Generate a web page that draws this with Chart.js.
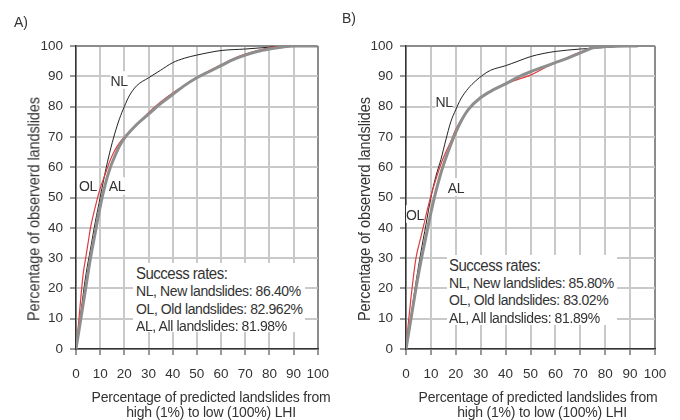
<!DOCTYPE html>
<html>
<head>
<meta charset="utf-8">
<script src="https://cdn.jsdelivr.net/npm/chart.js@4"></script>
<style>
  html, body { margin: 0; padding: 0; background: #fff; }
  #wrap { position: relative; width: 680px; height: 420px; overflow: hidden;
          font-family: "Liberation Sans", Arial, sans-serif; color: #333; }
  canvas { position: absolute; top: 0; }
  .lbl { position: absolute; white-space: nowrap; background: #fff; line-height: 16px; height: 16px; }
  .rot { position: absolute; white-space: nowrap; letter-spacing: -0.1px;
         transform: translate(-50%, -50%) rotate(-90deg) scaleY(1.08); }
</style>
</head>
<body>
<div id="wrap">
  <canvas id="chartA" width="340" height="420" style="left:0"></canvas>
  <canvas id="chartB" width="340" height="420" style="left:340px"></canvas>
</div>
<script>
// ============ Data ============
const tickValues = [0, 10, 20, 30, 40, 50, 60, 70, 80, 90, 100];

// A) new / old / all landslides
const nlA_x = [0, 2, 4, 6, 8, 10, 12, 14, 16, 18, 20, 22, 25, 30, 35, 40, 45, 50, 60, 70, 80, 85, 100];
const nlA_y = [0, 12, 24, 33, 42, 50, 58, 65, 71, 76, 80, 83.5, 86.8, 89.5, 92, 94.5, 96, 97, 98.5, 99, 99.6, 100, 100];
const olA_x = [0, 1, 2, 3, 4, 5, 6, 8, 10, 12, 14, 16, 18, 20, 25, 30, 35, 40, 45, 50, 55, 60, 65, 70, 75, 80, 85, 100];
const olA_y = [0, 8, 17, 25, 30, 35, 40, 47, 53, 57.5, 62, 65.5, 68, 70, 74, 78, 81.5, 84.5, 87, 89.5, 91.8, 93.8, 95.8, 97.3, 98.5, 99.4, 100, 100];
const alA_x = [0, 2, 4, 6, 8, 10, 12, 14, 16, 18, 20, 25, 30, 35, 40, 45, 50, 55, 60, 65, 70, 75, 80, 85, 90, 100];
const alA_y = [0, 10, 20, 30, 38.5, 47, 54, 59.5, 63.5, 67, 69.5, 74, 77.5, 81, 84, 87, 89.5, 91.5, 93.5, 95.5, 97, 98.2, 99, 99.6, 100, 100];

// B)
const nlB_x = [0, 2, 4, 6, 8, 10, 12, 14, 16, 18, 20, 22, 25, 28, 31, 34, 40, 45, 50, 55, 60, 70, 80, 85, 93];
const nlB_y = [0, 11, 22, 32, 41, 50, 57, 62.5, 69, 75, 79, 82.5, 86, 88.5, 90.5, 92, 93.5, 95, 96.5, 97.5, 98.2, 99, 99.5, 99.8, 100];
const olB_x = [0, 1, 2, 3, 4, 6, 8, 10, 12, 14, 16, 18, 20, 25, 30, 35, 40, 45, 50, 55, 60, 65, 70, 75, 78, 93];
const olB_y = [0, 9, 17, 24, 30, 37, 44, 50.5, 56, 61, 65, 68.5, 72.5, 79, 83, 85.5, 87.5, 89, 90.4, 92.5, 94.5, 96.3, 98, 99.6, 100, 100];
const alB_x = [0, 2, 4, 6, 8, 10, 12, 14, 16, 18, 20, 22, 25, 30, 35, 40, 45, 50, 55, 60, 65, 70, 75, 80, 93];
const alB_y = [0, 10, 20, 29, 37, 45, 52, 58, 63, 67.5, 71.5, 75, 79, 83, 85.5, 87.5, 89.7, 91.5, 93, 94.5, 96, 97.7, 99.4, 99.8, 100];

const ratesA = ['NL, New landslides: 86.40%', 'OL, Old landslides: 82.962%', 'AL, All landslides: 81.98%'];
const ratesB = ['NL, New landslides: 85.80%', 'OL, Old landslides: 83.02%', 'AL, All landslides: 81.89%'];

// ============ Helpers ============
const FONT = '"Liberation Sans", Arial, sans-serif';
const pts = (xs, ys) => xs.map((x, i) => ({ x, y: ys[i] }));

function series(xs, ys, color, width) {
    return {
        data: pts(xs, ys), borderColor: color, borderWidth: width,
        pointRadius: 0, fill: false, cubicInterpolationMode: 'monotone'
    };
}

function gridColor(ctx) {
    return ctx.tick && ctx.tick.value === 100 ? '#8c8c8c' : '#c9c9c9';
}

function makeChart(id, nl, ol, al, area) {
    const axis = (isY) => ({
        type: 'linear', min: 0, max: 100,
        afterBuildTicks(scale) { scale.ticks = tickValues.map(v => ({ value: v })); },
        afterFit(scale) {
            if (isY) scale.width = area.left; else scale.height = 420 - area.bottom;
        },
        border: { color: '#333', width: 1.5 },
        grid: { color: gridColor, lineWidth: 2, tickColor: '#333', tickWidth: 1, tickLength: 6 },
        ticks: {
            color: '#333', padding: isY ? 7 : 11, autoSkip: false, maxRotation: 0,
            font: { family: FONT, size: 13.5 }
        }
    });
    return new Chart(document.getElementById(id), {
        type: 'line',
        data: { datasets: [al, ol, nl] },
        options: {
            responsive: false, animation: false, devicePixelRatio: 1,
            layout: { padding: { top: area.top, right: 340 - area.right, left: 0, bottom: 0 } },
            plugins: { legend: { display: false }, tooltip: { enabled: false } },
            scales: { x: axis(false), y: axis(true) }
        }
    });
}

makeChart('chartA',
    series(nlA_x, nlA_y, '#222', 1),
    series(olA_x, olA_y, '#e23a3a', 1.2),
    series(alA_x, alA_y, '#8e8e8e', 3),
    { left: 76, right: 322, top: 46, bottom: 349 });

makeChart('chartB',
    series(nlB_x, nlB_y, '#222', 1),
    series(olB_x, olB_y, '#e23a3a', 1.2),
    series(alB_x, alB_y, '#8e8e8e', 3),
    { left: 66, right: 315, top: 46, bottom: 349 });

// ============ Text ============
const wrap = document.getElementById('wrap');
function text(str, x, cy, size, opts) {
    opts = opts || {};
    const d = document.createElement('div');
    d.className = 'lbl';
    d.textContent = str;
    d.style.fontSize = size + 'px';
    d.style.letterSpacing = (opts.ls || 0) + 'px';
    d.style.left = x + 'px';
    d.style.top = (cy - 8) + 'px';
    d.style.transform = (opts.center ? 'translateX(-50%) ' : '') + 'scaleY(1.1)';
    if (opts.clear) d.style.background = 'transparent';
    wrap.appendChild(d);
    return d;
}
function box(x, y, w, h) {
    const d = document.createElement('div');
    Object.assign(d.style, { position: 'absolute', left: x + 'px', top: y + 'px', width: w + 'px', height: h + 'px', background: '#fff' });
    wrap.appendChild(d);
}
function vtitle(str, cx, cy) {
    const d = document.createElement('div');
    d.className = 'rot';
    d.textContent = str;
    d.style.fontSize = '14.5px';
    d.style.left = cx + 'px';
    d.style.top = cy + 'px';
    wrap.appendChild(d);
}

// panel A
text('A)', 14, 21, 14, { clear: true });
text('NL', 119, 80, 14, { center: true, ls: -0.4 });
text('OL', 88, 186, 14, { center: true, ls: -0.4 });
text('AL', 117, 186, 14, { center: true, ls: -0.4 });
box(133, 263, 172, 69);
text('Success rates:', 136, 273, 15, { ls: -0.5 });
ratesA.forEach((r, i) => text(r, 136, 290 + i * 17.7, 14, { clear: true, ls: -0.4 }));
vtitle('Percentage of observerd landslides', 34, 209);
text('Percentage of predicted landslides from', 211, 396, 14, { center: true, clear: true, ls: -0.2 });
text('high (1%) to low (100%)  LHI', 211, 411, 14, { center: true, clear: true, ls: -0.2 });

// panel B
text('B)', 342, 17, 14, { clear: true });
text('NL', 444, 102, 14, { center: true, ls: -0.4 });
text('AL', 456, 187, 14, { center: true, ls: -0.4 });
text('OL', 415, 214, 14, { center: true, ls: -0.4 });
box(447, 255, 170, 70);
text('Success rates:', 449, 264.5, 15, { ls: -0.5 });
ratesB.forEach((r, i) => text(r, 449, 282 + i * 17.3, 14, { clear: true, ls: -0.4 }));
vtitle('Percentage of observerd landslides', 365, 209);
text('Percentage of predicted landslides from', 538, 396, 14, { center: true, clear: true, ls: -0.2 });
text('high (1%) to low (100%)  LHI', 542, 411, 14, { center: true, clear: true, ls: -0.2 });
</script>
</body>
</html>
